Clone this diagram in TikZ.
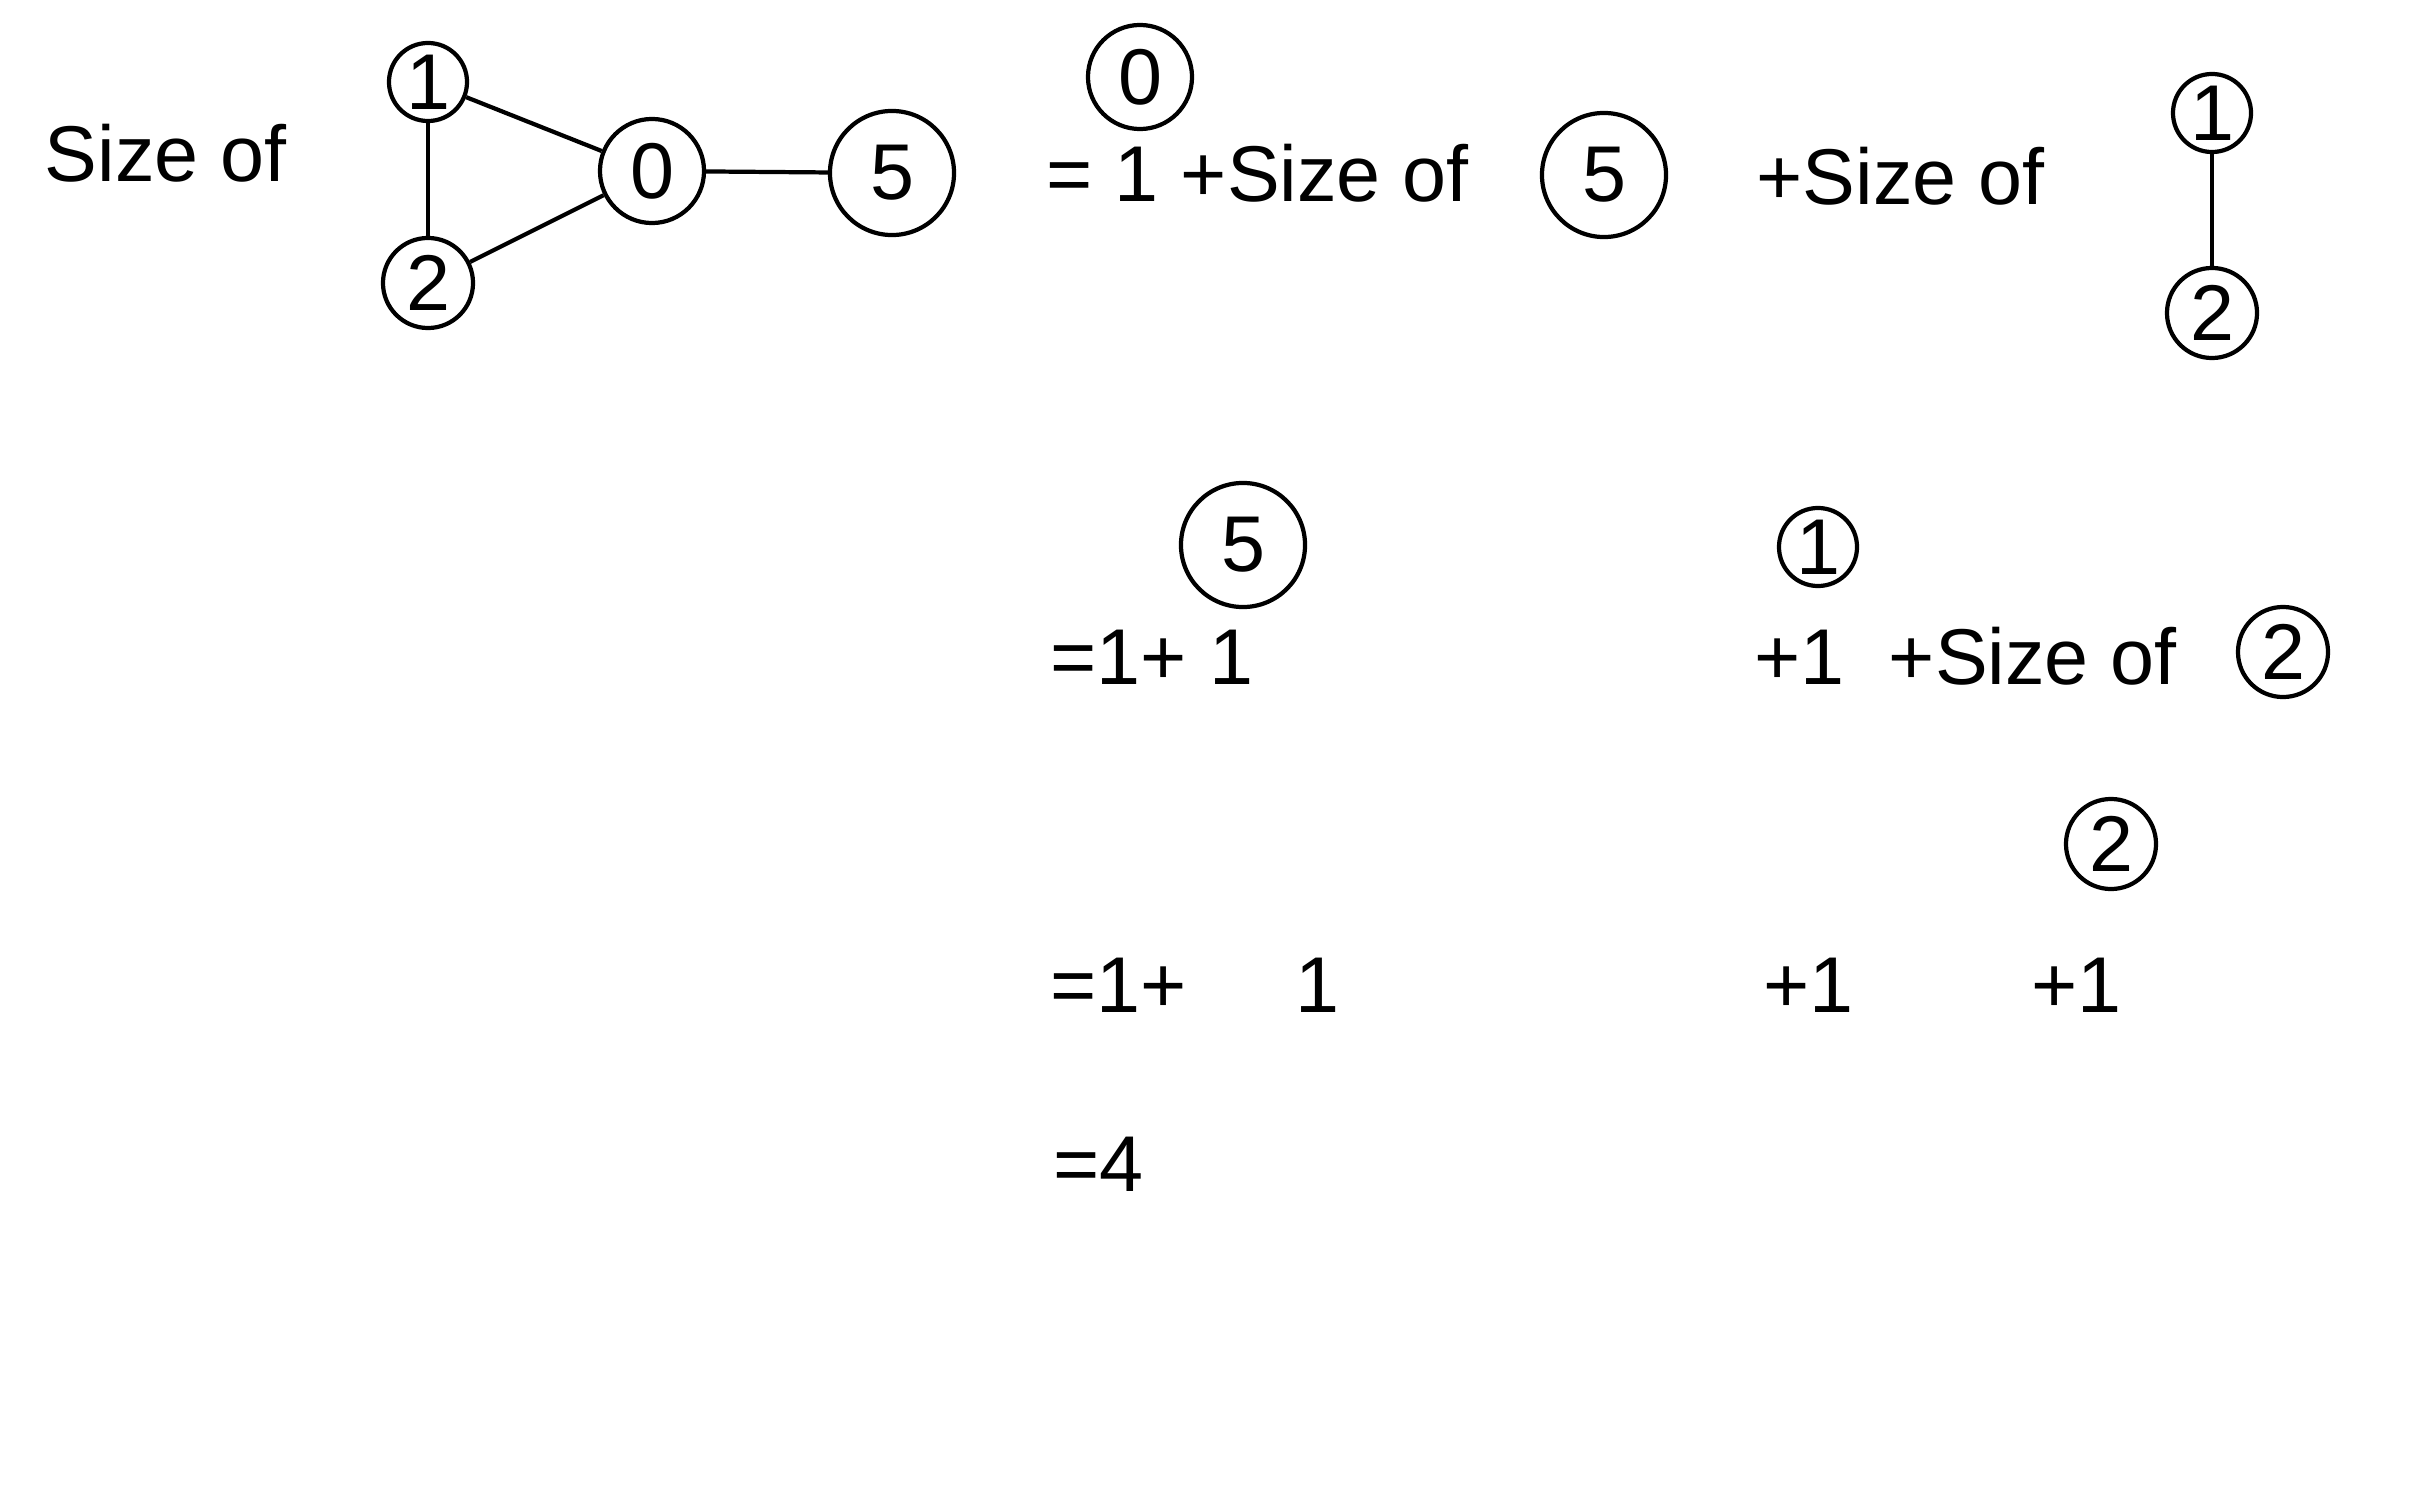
\documentclass[tikz,border=0pt]{standalone}
\usepackage{fontspec}
\setmainfont{Liberation Sans}
\usetikzlibrary{positioning}
\tikzset{
  vtx/.style={draw, circle, inner sep=0pt, line width=1.2pt},
  txt/.style={anchor=base west, inner sep=0pt},
  edge/.style={line width=1.2pt}
}
\begin{document}
\begin{tikzpicture}[x=0.01cm, y=-0.01cm, font=\fontsize{22.5}{27}\selectfont]
        \useasboundingbox (0,0) rectangle (2429,1497);
        \node[txt] (sizeA) at (44,182) {Size of};
        \node[vtx, minimum size=0.78cm] (a1) at (428,82) {1};
        \node[vtx, minimum size=0.90cm] (a2) at (428,283) {2};
        \node[vtx, minimum size=1.04cm] (a0) at (652,171) {0};
        \node[vtx, minimum size=1.24cm] (a5) at (892,173) {5};
        \draw[edge] (a1) -- (a2);
        \draw[edge] (a1) -- (a0);
        \draw[edge] (a2) -- (a0);
        \draw[edge] (a0) -- (a5);
        \node[vtx, minimum size=1.04cm] (b0) at (1140,77) {0};
        \node[txt] (sizeB) at (1046,202) {= 1 +Size of};
        \node[vtx, minimum size=1.24cm] (b5) at (1604,175) {5};
        \node[txt] (sizeC) at (1756,205) {+Size of};
        \node[vtx, minimum size=0.78cm] (b1) at (2212,113) {1};
        \node[vtx, minimum size=0.90cm] (b2) at (2212,313) {2};
        \draw[edge] (b1) -- (b2);
        \node[vtx, minimum size=1.24cm] (c5) at (1243,545) {5};
        \node[txt] (sumA) at (1050,684) {=1+ 1};
        \node[vtx, minimum size=0.78cm] (c1) at (1818,547) {1};
        \node[txt] (sizeD) at (1754,684) {+1\ \ +Size of};
        \node[vtx, minimum size=0.90cm] (c2) at (2283,652) {2};
        \node[vtx, minimum size=0.90cm] (d2) at (2111,844) {2};
        \node[txt] (sumB) at (1050,1012) {=1+};
        \node[txt] (oneA) at (1295,1012) {1};
        \node[txt] (oneB) at (1763,1012) {+1};
        \node[txt] (oneC) at (2031,1012) {+1};
        \node[txt] (total) at (1053,1191) {=4};
    \end{tikzpicture}
\end{document}
